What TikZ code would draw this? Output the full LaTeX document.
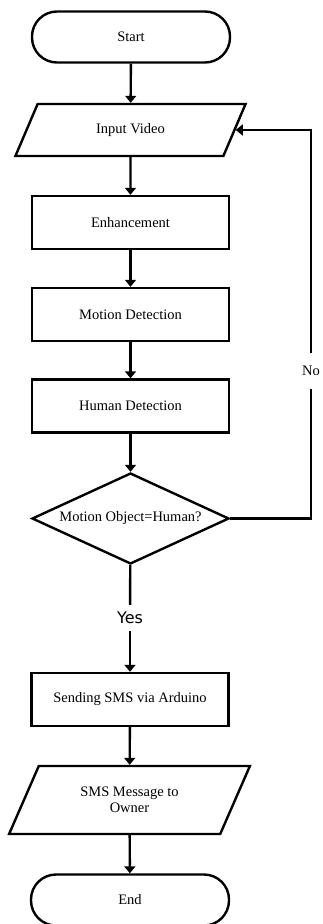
\documentclass[tikz,border=0pt]{standalone}
\usepackage{fontspec}
\setmainfont{Liberation Serif}
\newfontfamily\yesfont{DejaVu Sans}
\usepackage{tikz}
\usetikzlibrary{arrows.meta,shapes.geometric}

\begin{document}
\begin{tikzpicture}[x=1pt,y=-1pt,>={Triangle[length=7pt,width=11pt]},
    every node/.style={font=\fontsize{14.5}{16}\selectfont},
    term/.style={draw,line width=2.4pt,rounded corners=25pt,minimum width=198pt,minimum height=51pt},
    proc/.style={draw,line width=2.4pt,minimum width=197pt,minimum height=53pt},
    io/.style={draw,line width=2.4pt,trapezium,trapezium left angle=58,trapezium right angle=122,
               trapezium stretches=true,align=center,inner sep=0pt},
    dec/.style={draw,line width=2.4pt,diamond,aspect=2.2,minimum width=197pt,minimum height=91pt,inner sep=0pt},
    link/.style={line width=2.4pt}]
  \useasboundingbox (0,0) rectangle (323,924);
  % ---- main column ----
  \node[term] (start) at (131,37) {Start};
  \node[io,minimum width=231pt,minimum height=52pt] (input) at (130.5,130) {Input Video};
  \node[proc] (enh) at (130.5,222.5) {Enhancement};
  \node[proc] (mot) at (130.5,314.5) {Motion Detection};
  \node[proc] (hum) at (130.5,406) {Human Detection};
  \node[dec] (check) at (130.5,518.5) {Motion Object=Human?};
  \node[fill=white,inner sep=1pt,minimum height=26pt,font=\yesfont\fontsize{16}{18}\selectfont] (yes) at (130,618) {Yes};
  \node[proc] (send) at (130,699.5) {Sending SMS via Arduino};
  \node[io,minimum width=241pt,minimum height=68pt] (msg) at (129.5,800) {SMS Message to\\Owner};
  \node[term] (stop) at (130,900) {End};
  % ---- loop label ----
  \node[fill=white,inner sep=1pt,minimum height=35pt] (no) at (311,371) {No};
  % ---- connectors ----
  \draw[link,->] (start) -- (input);
  \draw[link,->] (input) -- (enh);
  \draw[link,->] (enh) -- (mot);
  \draw[link,->] (mot) -- (hum);
  \draw[link,->] (hum) -- (check);
  \draw[link] (check) -- (yes);
  \draw[link,->] (yes) -- (send);
  \draw[link,->] (send) -- (msg);
  \draw[link,->] (msg) -- (stop);
  \draw[link] (check.east) -| (no.south);
  \draw[link,->] (no.north) |- (input.east);
\end{tikzpicture}
\end{document}
